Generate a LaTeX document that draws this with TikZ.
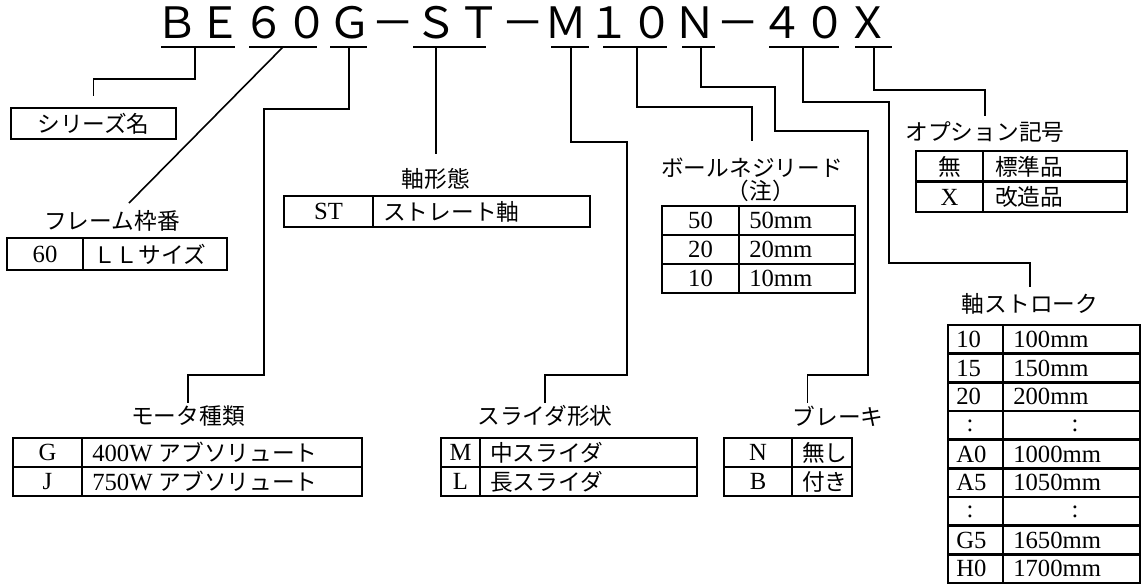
\documentclass[tikz,border=0pt]{standalone}
\usepackage{fontspec}
\setmainfont{Liberation Serif}
\newfontfamily\jp[Scale=0.92]{Noto Sans CJK JP}
\begin{document}
\begin{tikzpicture}[x=0.75pt, y=-0.75pt,
  lead/.style={line width=1.2pt},
  uline/.style={line width=1.5pt},
  tab/.style={line width=2pt},
  lbl/.style={font=\jp\fontsize{18.5}{21}\selectfont, inner sep=0pt},
  cell/.style={font=\fontsize{18.5}{21}\selectfont, inner sep=0pt},
  val/.style={cell, anchor=west}]
  \useasboundingbox (0,0) rectangle (1148,586);
  \node [anchor=base west, inner sep=0pt, font=\jp\fontsize{35.2}{38}\selectfont] (code)
    at (155.4,38) {ＢＥ６０Ｇ－ＳＴ－Ｍ１０Ｎ－４０Ｘ};
  \foreach \a/\b/\c/\n in {161/235/195/se, 249/317/283/fr, 330/367/349/mo,
      413/486/436/ax, 551/589/571/sl, 603/667/637/ld, 682/715/701/br,
      769/839/803/st, 855/892/874/op} {
    \draw [uline] (\a,47) -- (\b,47);
    \coordinate (u-\n) at (\c,47);
  }

  \node [lbl, draw, line width=2pt, minimum width=123.75pt, minimum height=23.25pt] (se)
    at (93.5,123.5) {シリーズ名};
  \draw [lead, shorten >=8pt] (u-se) -- ++(0,32) -| (se.north);

  \node [lbl] (l-fr) at (112,221) {フレーム枠番};
  \coordinate (fr-end) at (129,203);
  \draw [lead] (u-fr) -- (fr-end);
  \draw [tab] (7,238) rectangle (227,270);
  \draw [tab] (83,238) -- (83,270);
  \node [cell] (fr-c) at (45,254) {60};
  \node [val] (fr-v) at (93,254) {\jp ＬＬサイズ};

  \node [lbl] (l-mo) at (188,416) {モータ種類};
  \draw [lead, shorten >=2pt] (u-mo) -- ++(0,62) -| (264,375) -| (l-mo.north);
  \draw [tab] (13,438) rectangle (362,496);
  \draw [tab] (82,438) -- (82,496);
  \draw [tab] (13,467) -- (362,467);
  \node [cell] (mo-c1) at (47.5,452.5) {G};
  \node [val] (mo-v1) at (92,452.5) {400W \jp アブソリュート};
  \node [cell] (mo-c2) at (47.5,481.5) {J};
  \node [val] (mo-v2) at (92,481.5) {750W \jp アブソリュート};

  \node [lbl] (l-ax) at (436,179) {軸形態};
  \draw [lead, shorten >=11pt] (u-ax) -- (l-ax.north);
  \draw [tab] (284,196) rectangle (590,227);
  \draw [tab] (373,196) -- (373,227);
  \node [cell] (ax-c) at (328.5,211.5) {ST};
  \node [val] (ax-v) at (383,211.5) {\jp ストレート軸};

  \node [lbl] (l-sl) at (545,416) {スライダ形状};
  \draw [lead, shorten >=2pt] (u-sl) -- ++(0,95) -| (627,375) -| (l-sl.north);
  \draw [tab] (441,438) rectangle (697,496);
  \draw [tab] (480,438) -- (480,496);
  \draw [tab] (441,467) -- (697,467);
  \node [cell] (sl-c1) at (460.5,452.5) {M};
  \node [val] (sl-v1) at (490,452.5) {\jp 中スライダ};
  \node [cell] (sl-c2) at (460.5,481.5) {L};
  \node [val] (sl-v2) at (490,481.5) {\jp 長スライダ};

  \node [lbl] (l-ld) at (752,168) {ボールネジリード};
  \node [lbl] (l-nt) at (761,191) {（注）};
  \draw [lead, shorten >=13pt] (u-ld) -- ++(0,60) -| (l-ld.north);
  \draw [tab] (662,206) rectangle (855,293);
  \draw [tab] (739,206) -- (739,293);
  \foreach \y in {235,264} \draw [tab] (662,\y) -- (855,\y);
  \foreach \k [count=\i] in {50,20,10} {
    \node [cell] (ld-c\i) at (700.5,191.5+29*\i) {\k};
    \node [val] (ld-v\i) at (749,191.5+29*\i) {\k mm};
  }

  \node [lbl] (l-br) at (838,416) {ブレーキ};
  \draw [lead, shorten >=2pt] (u-br) -- ++(0,40) -| (775,131) -| (868,375)
    -| ([xshift=-23pt]l-br.north);
  \draw [tab] (724,438) rectangle (852,496);
  \draw [tab] (792,438) -- (792,496);
  \draw [tab] (724,467) -- (852,467);
  \node [cell] (br-c1) at (758,452.5) {N};
  \node [val] (br-v1) at (802,452.5) {\jp 無し};
  \node [cell] (br-c2) at (758,481.5) {B};
  \node [val] (br-v2) at (802,481.5) {\jp 付き};

  \node [lbl] (l-st) at (1030,304) {軸ストローク};
  \draw [lead, shorten >=5pt] (u-st) -- ++(0,55) -| (889,263) -| (l-st.north);
  \draw [tab] (948,325) rectangle (1140,583);
  \draw [tab] (1003,325) -- (1003,583);
  \foreach \i in {1,...,8} \draw [tab] (948,325+28.67*\i) -- (1140,325+28.67*\i);
  \foreach \i/\k/\v in {1/10/100, 2/15/150, 3/20/200, 5/A0/1000, 6/A5/1050,
      8/G5/1650, 9/H0/1700} {
    \node [val] (st-c\i) at (956,310.7+28.67*\i) {\k};
    \node [val] (st-v\i) at (1013,310.7+28.67*\i) {\v mm};
  }
  \foreach \i in {4,7} {
    \node [cell] (st-c\i) at (970,310.7+28.67*\i) {:};
    \node [cell] (st-v\i) at (1075,310.7+28.67*\i) {:};
  }

  \node [lbl] (l-op) at (985,132) {オプション記号};
  \draw [lead, shorten >=4pt] (u-op) -- ++(0,43) -| (l-op.north);
  \draw [tab] (916,151) rectangle (1127,212);
  \draw [tab] (983,151) -- (983,212);
  \draw [tab] (916,181.5) -- (1127,181.5);
  \node [cell] (op-c1) at (949.5,166.5) {\jp 無};
  \node [val] (op-v1) at (995,166.5) {\jp 標準品};
  \node [cell] (op-c2) at (949.5,197) {X};
  \node [val] (op-v2) at (995,197) {\jp 改造品};
\end{tikzpicture}
\end{document}
